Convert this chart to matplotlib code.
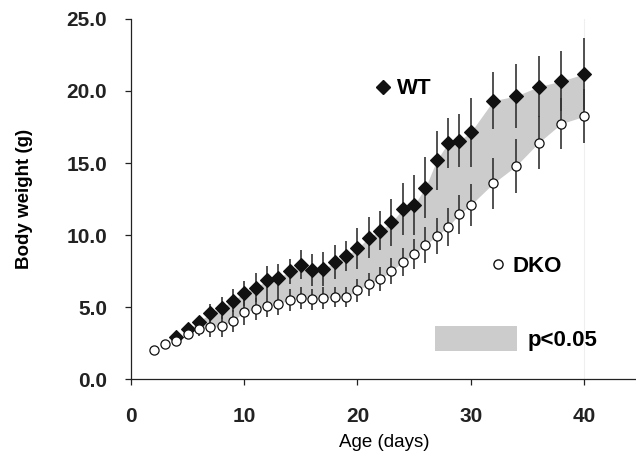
import numpy as np
import matplotlib
matplotlib.use('Agg')
import matplotlib.pyplot as plt
from matplotlib.lines import Line2D
from matplotlib.patches import Patch

plt.rcParams['font.family'] = ['Liberation Sans', 'DejaVu Sans']

# age in days
days = [2, 3, 4, 5, 6, 7, 8, 9, 10, 11, 12, 13, 14, 15, 16, 17, 18, 19, 20,
        21, 22, 23, 24, 25, 26, 27, 28, 29, 30, 32, 34, 36, 38, 40]

# body weight (g), mean and SD (WT hidden behind DKO on days 2-3)
wt_mean = [np.nan, np.nan, 2.9, 3.45, 3.98, 4.56, 4.95, 5.44, 5.95, 6.34, 6.85, 6.99,
           7.48, 7.94, 7.57, 7.62, 8.1, 8.54, 9.07, 9.82, 10.3, 10.88, 11.78,
           12.08, 13.29, 15.18, 16.39, 16.55, 17.13, 19.33, 19.65, 20.3, 20.69, 21.18]
wt_sd = [0.1, 0.15, 0.25, 0.3, 0.4, 0.64, 0.77, 0.8, 0.85, 1.0, 1.0, 1.0,
         0.85, 1.02, 1.1, 1.18, 1.18, 1.06, 1.4, 1.42, 1.35, 1.62, 1.81,
         2.06, 2.1, 2.06, 1.74, 1.83, 2.4, 2.0, 2.2, 2.13, 2.09, 2.48]

dko_mean = [2.01, 2.41, 2.64, 3.12, 3.47, 3.59, 3.66, 4.03, 4.65, 4.85, 5.07, 5.21,
            5.49, 5.63, 5.53, 5.6, 5.69, 5.69, 6.16, 6.57, 6.95, 7.48, 8.15,
            8.68, 9.31, 9.93, 10.58, 11.44, 12.08, 13.59, 14.79, 16.41, 17.73, 18.24]
dko_sd = [0.15, 0.2, 0.3, 0.35, 0.45, 0.65, 0.72, 0.74, 0.9, 0.75, 0.75, 0.77,
          0.75, 0.75, 0.75, 0.76, 0.7, 0.7, 0.8, 0.8, 0.85, 0.9, 0.97,
          1.06, 1.23, 1.25, 1.32, 1.37, 1.48, 1.77, 1.9, 1.85, 1.78, 1.87]

sig_start = 5  # first day of the p<0.05 band

d = np.array(days)
wt = np.array(wt_mean)
dko = np.array(dko_mean)

fig = plt.figure(figsize=(6.36, 4.65), dpi=100)
ax = fig.add_axes([131 / 636, 1 - 379 / 465, 1 - 131 / 636, 360 / 465])

# faint line at the last time point
ax.axvline(40, color='#efefef', lw=0.8, zorder=0)

band = d >= sig_start
ax.fill_between(d[band], dko[band], wt[band], color='#cccccc', lw=0, zorder=1)

ax.errorbar(d, wt, yerr=wt_sd, fmt='none', ecolor='#333333', elinewidth=1.2,
            capsize=0, zorder=2)
ax.errorbar(d, dko, yerr=dko_sd, fmt='none', ecolor='#333333', elinewidth=1.2,
            capsize=0, zorder=2)
ax.plot(d, wt, 'D', ms=6.8, mfc='#111111', mec='#111111', mew=0.8, zorder=3)
ax.plot(d, dko, 'o', ms=6.6, mfc='white', mec='#111111', mew=0.9, zorder=4)

ax.set_xlim(0, 44.6)
ax.set_ylim(0, 25)
ax.set_xticks([0, 10, 20, 30, 40])
ax.set_yticks([0, 5, 10, 15, 20, 25])
ax.set_yticklabels([f'{v:.1f}' for v in [0, 5, 10, 15, 20, 25]])
for lab in ax.get_xticklabels() + ax.get_yticklabels():
    lab.set_fontweight('bold')
ax.tick_params(direction='out', length=4.3, width=0.9, labelsize=15, colors='#222222')
ax.tick_params(axis='y', pad=13)
ax.tick_params(axis='x', pad=16)

ax.spines['top'].set_visible(False)
ax.spines['right'].set_visible(False)
for s in ['left', 'bottom']:
    ax.spines[s].set_linewidth(0.9)
    ax.spines[s].set_color('#222222')

ax.set_xlabel('Age (days)', fontsize=13.5)
ax.xaxis.set_label_coords(0.501, -0.153)
ax.set_ylabel('Body weight (g)', fontsize=13.5, fontweight='bold')
ax.yaxis.set_label_coords(-0.194, 0.5)

# scattered key entries
leg_kw = dict(frameon=False, handletextpad=0.15, borderpad=0, borderaxespad=0,
              prop={'weight': 'bold', 'size': 16}, handlelength=1.0)
h_wt = Line2D([], [], ls='none', marker='D', ms=6.8, mfc='#111111', mec='#111111')
h_dko = Line2D([], [], ls='none', marker='o', ms=6.6, mfc='white', mec='#111111')
h_sig = Patch(facecolor='#cccccc', edgecolor='none')

leg1 = ax.legend([h_wt], ['WT'], loc='center left',
                 bbox_to_anchor=(0.4766, 0.806), **leg_kw)
ax.add_artist(leg1)
leg2 = ax.legend([h_dko], ['DKO'], loc='center left',
                 bbox_to_anchor=(0.7056, 0.312), **leg_kw)
ax.add_artist(leg2)
leg_kw3 = dict(leg_kw)
leg_kw3.update(handlelength=3.7, handleheight=1.4, handletextpad=0.45)
ax.legend([h_sig], ['p<0.05'], loc='center left',
          bbox_to_anchor=(0.602, 0.1125), **leg_kw3)

fig.savefig('out.png', dpi=100)
